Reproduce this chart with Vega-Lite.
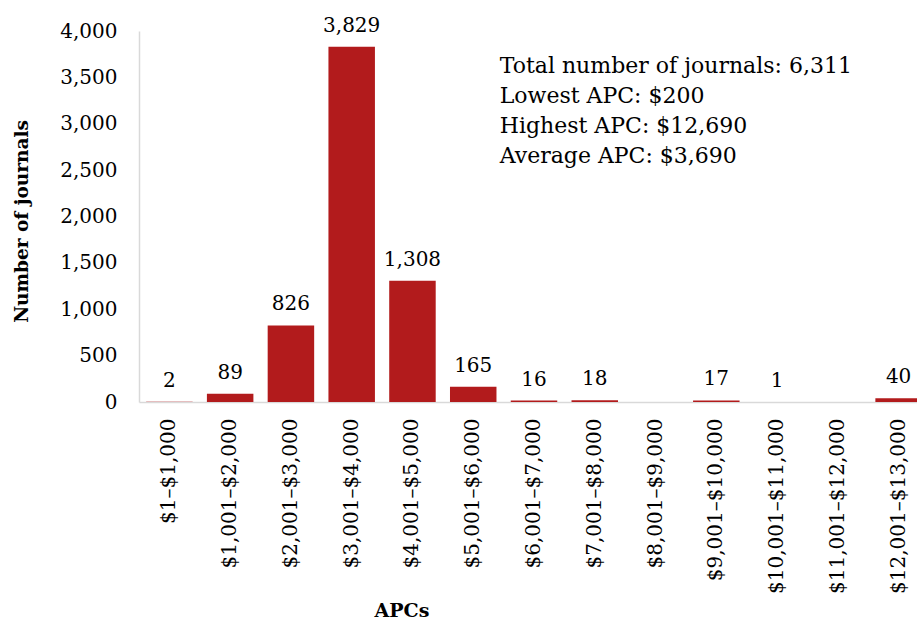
{
  "$schema": "https://vega.github.io/schema/vega-lite/v6.json",
  "autosize": {"type": "none"},
  "padding": {"left": 139, "top": 31, "right": 0, "bottom": 218},
  "width": 778,
  "height": 371,
  "config": {
    "view": {"stroke": null},
    "font": "DejaVu Serif",
    "text": {"font": "DejaVu Serif"}
  },
  "datasets": {
    "apc": [
      {"range": "$1–$1,000", "count": 2},
      {"range": "$1,001–$2,000", "count": 89},
      {"range": "$2,001–$3,000", "count": 826},
      {"range": "$3,001–$4,000", "count": 3829},
      {"range": "$4,001–$5,000", "count": 1308},
      {"range": "$5,001–$6,000", "count": 165},
      {"range": "$6,001–$7,000", "count": 16},
      {"range": "$7,001–$8,000", "count": 18},
      {"range": "$8,001–$9,000", "count": 0},
      {"range": "$9,001–$10,000", "count": 17},
      {"range": "$10,001–$11,000", "count": 1},
      {"range": "$11,001–$12,000", "count": 0},
      {"range": "$12,001–$13,000", "count": 40}
    ],
    "note": [
      {"note": "Total number of journals: 6,311\nLowest APC: $200\nHighest APC: $12,690\nAverage APC: $3,690"}
    ]
  },
  "layer": [
    {
      "data": {"name": "apc"},
      "mark": {"type": "bar", "color": "#B21B1C"},
      "encoding": {
        "x": {
          "field": "range", "type": "nominal", "sort": null,
          "scale": {"range": [0, 790], "paddingInner": 0.235, "paddingOuter": 0.1175},
          "axis": {
            "title": "APCs",
            "titleFont": "DejaVu Serif", "titleFontSize": 19, "titleFontWeight": "bold", "titleColor": "#000000",
            "titleX": 262.5, "titleY": 214, "titleAlign": "center", "titleBaseline": "alphabetic", "titleAnchor": null,
            "labelAngle": -90, "labelFont": "DejaVu Serif", "labelFontSize": 20, "labelColor": "#000000",
            "labelPadding": 16, "ticks": false, "tickSize": 0,
            "domainColor": "#D9D9D9", "domainWidth": 1.5, "labelOverlap": false, "labelLimit": 300
          }
        },
        "y": {
          "field": "count", "type": "quantitative",
          "scale": {"domain": [0, 4000], "nice": false},
          "axis": {
            "title": "Number of journals",
            "titleFont": "DejaVu Serif", "titleFontSize": 18.5, "titleFontWeight": "bold", "titleColor": "#000000",
            "titleX": -112, "titleY": 190, "titleAlign": "center", "titleBaseline": "alphabetic", "titleAnchor": null,
            "values": [0, 500, 1000, 1500, 2000, 2500, 3000, 3500, 4000],
            "format": ",d",
            "labelFont": "DejaVu Serif", "labelFontSize": 20, "labelColor": "#000000",
            "labelPadding": 22, "ticks": false, "tickSize": 0, "grid": false,
            "domainColor": "#D9D9D9", "domainWidth": 1.5
          }
        }
      }
    },
    {
      "data": {"name": "apc"},
      "transform": [{"filter": "datum.count > 0"}],
      "mark": {"type": "text", "baseline": "alphabetic", "align": "center", "dy": -15, "fontSize": 20, "color": "#000000", "font": "DejaVu Serif"},
      "encoding": {
        "x": {"field": "range", "type": "nominal", "sort": null},
        "y": {"field": "count", "type": "quantitative"},
        "text": {"field": "count", "type": "quantitative", "format": ",d"}
      }
    },
    {
      "data": {"name": "note"},
      "mark": {"type": "text", "baseline": "alphabetic", "align": "left", "fontSize": 22, "lineHeight": 30, "lineBreak": "\n", "color": "#000000", "font": "DejaVu Serif", "dx": -11},
      "encoding": {
        "x": {"datum": "$6,001–$7,000", "type": "nominal", "bandPosition": 0},
        "y": {"datum": 3550, "type": "quantitative"},
        "text": {"field": "note", "type": "nominal"}
      }
    }
  ]
}
